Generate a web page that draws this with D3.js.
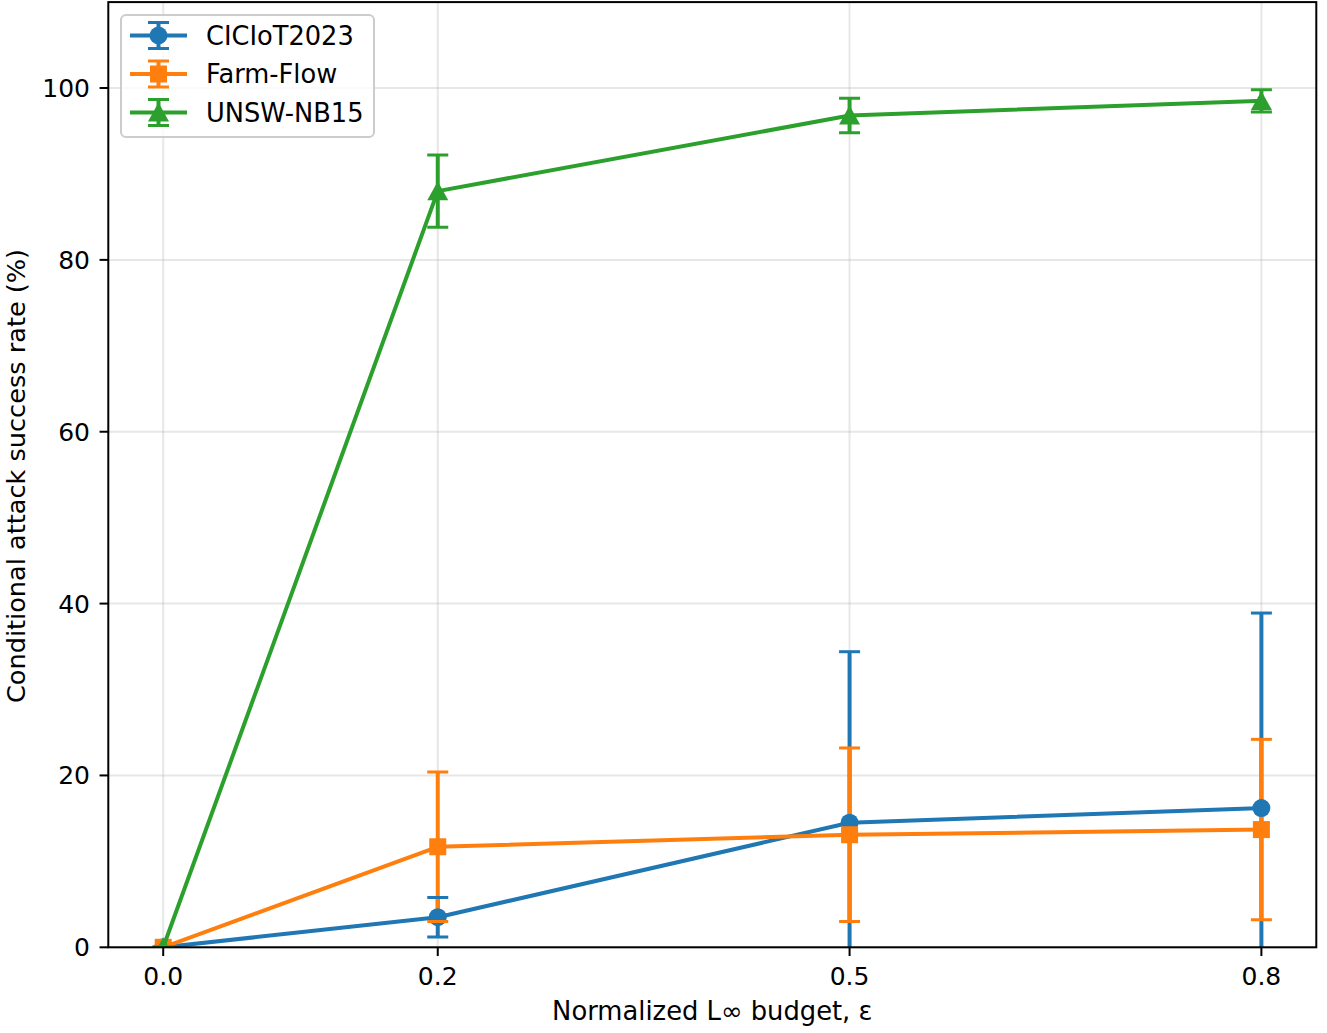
<!DOCTYPE html>
<html>
<head>
<meta charset="utf-8">
<script src="https://cdn.jsdelivr.net/npm/d3@7"></script>
<style>
  body { margin: 0; background: #fff; }
  svg { font-family: "DejaVu Sans", sans-serif; }
</style>
</head>
<body>
<svg id="chart" width="1327" height="1033"></svg>
<script>
// data
const budgets = [0.0, 0.2, 0.5, 0.8];
const xTickLabels = ["0.0", "0.2", "0.5", "0.8"];
const yTicks = [0, 20, 40, 60, 80, 100];
const seriesNames = ["CICIoT2023", "Farm-Flow", "UNSW-NB15"];
const ciciotMean = [0, 3.5, 14.5, 16.2];
const ciciotErr = [0, 2.3, 19.9, 22.7];
const farmMean = [0, 11.7, 13.1, 13.7];
const farmErr = [0, 8.7, 10.1, 10.5];
const unswMean = [0, 88.0, 96.8, 98.5];
const unswErr = [0, 4.2, 2.0, 1.3];

const colors = ["#1f77b4", "#ff7f0e", "#2ca02c"];
const shapes = ["circle", "square", "triangle"];

const series = [
  { name: seriesNames[0], mean: ciciotMean, err: ciciotErr },
  { name: seriesNames[1], mean: farmMean, err: farmErr },
  { name: seriesNames[2], mean: unswMean, err: unswErr }
].map((s, i) => ({ ...s, color: colors[i], shape: shapes[i],
  pts: budgets.map((b, j) => ({ x: b, y: s.mean[j], e: s.err[j] })) }));

const svg = d3.select("#chart");
const plotL = 108.3, plotR = 1316.3, plotT = 2.1, plotB = 947.3;
const lw = 4;

const x = d3.scaleLinear().domain([-0.04, 0.84]).range([plotL, plotR]);
const y = d3.scaleLinear().domain([0, 110]).range([plotB, plotT]);

svg.append("defs").append("clipPath").attr("id", "plotclip")
  .append("rect").attr("x", plotL).attr("y", plotT)
  .attr("width", plotR - plotL).attr("height", plotB - plotT);

// grid
const grid = svg.append("g").attr("stroke", "#b0b0b0").attr("stroke-opacity", 0.3).attr("stroke-width", 2);
grid.selectAll(".gx").data(budgets).enter().append("line")
  .attr("x1", d => x(d)).attr("x2", d => x(d)).attr("y1", plotT).attr("y2", plotB);
grid.selectAll(".gy").data(yTicks).enter().append("line")
  .attr("x1", plotL).attr("x2", plotR).attr("y1", d => y(d)).attr("y2", d => y(d));

const plot = svg.append("g").attr("clip-path", "url(#plotclip)");

let drawMarker = (g, shape, color, cx, cy) => {
  if (shape === "circle") {
    g.append("circle").attr("cx", cx).attr("cy", cy).attr("r", 9).attr("fill", color);
  } else if (shape === "square") {
    g.append("rect").attr("x", cx - 8.5).attr("y", cy - 8.5).attr("width", 17).attr("height", 17).attr("fill", color);
  } else {
    g.append("path").attr("d", `M${cx},${cy - 10}L${cx + 10.5},${cy + 9}L${cx - 10.5},${cy + 9}Z`).attr("fill", color);
  }
};

// error bars (below lines)
series.forEach(s => {
  plot.append("g").selectAll("line").data(s.pts).enter().append("line")
    .attr("x1", d => x(d.x)).attr("x2", d => x(d.x))
    .attr("y1", d => y(d.y - d.e)).attr("y2", d => y(d.y + d.e))
    .attr("stroke", s.color).attr("stroke-width", lw);
});

// lines + markers
const line = d3.line().x(d => x(d.x)).y(d => y(d.y));
series.forEach(s => {
  const g = plot.append("g");
  g.append("path").datum(s.pts).attr("d", line)
    .attr("fill", "none").attr("stroke", s.color).attr("stroke-width", lw)
    .attr("stroke-linejoin", "round").attr("stroke-linecap", "square");
  s.pts.forEach(d => drawMarker(g, s.shape, s.color, x(d.x), y(d.y)));
});

// caps (above everything)
series.forEach(s => {
  const g = plot.append("g").attr("stroke", s.color).attr("stroke-width", 3);
  s.pts.forEach(d => {
    [d.y - d.e, d.y + d.e].forEach(v => {
      g.append("line").attr("x1", x(d.x) - 10.5).attr("x2", x(d.x) + 10.5)
        .attr("y1", y(v)).attr("y2", y(v));
    });
  });
});

// axes frame
svg.append("rect").attr("x", plotL).attr("y", plotT).attr("width", plotR - plotL).attr("height", plotB - plotT)
  .attr("fill", "none").attr("stroke", "#000").attr("stroke-width", 2);

// x ticks
const xt = svg.append("g");
budgets.forEach((b, i) => {
  xt.append("line").attr("x1", x(b)).attr("x2", x(b)).attr("y1", plotB).attr("y2", plotB + 8.75)
    .attr("stroke", "#000").attr("stroke-width", 2);
  xt.append("text").attr("x", x(b)).attr("y", 985).attr("text-anchor", "middle")
    .attr("font-size", 25).attr("fill", "#000").text(xTickLabels[i]);
});

// y ticks
const yt = svg.append("g");
yTicks.forEach(v => {
  yt.append("line").attr("x1", plotL - 8.75).attr("x2", plotL).attr("y1", y(v)).attr("y2", y(v))
    .attr("stroke", "#000").attr("stroke-width", 2);
  yt.append("text").attr("x", 90).attr("y", y(v)).attr("dy", "0.36em").attr("text-anchor", "end")
    .attr("font-size", 25).attr("fill", "#000").text(v);
});

// axis labels
svg.append("text").attr("x", (plotL + plotR) / 2).attr("y", 1020).attr("text-anchor", "middle")
  .attr("font-size", 25.8).text("Normalized L\u221e budget, \u03b5");
svg.append("text").attr("transform", "translate(24.5,476) rotate(-90)").attr("text-anchor", "middle")
  .attr("font-size", 25.6).text("Conditional attack success rate (%)");

// legend
const legend = svg.append("g");
legend.append("rect").attr("x", 121).attr("y", 15).attr("width", 253).attr("height", 122)
  .attr("rx", 5).attr("fill", "#fff").attr("fill-opacity", 0.8)
  .attr("stroke", "#cccccc").attr("stroke-width", 2);
series.forEach((s, i) => {
  const cy = 35.5 + i * 38.5, cx = 158.5;
  const g = legend.append("g");
  g.append("line").attr("x1", cx).attr("x2", cx).attr("y1", cy - 13).attr("y2", cy + 13)
    .attr("stroke", s.color).attr("stroke-width", lw);
  g.append("line").attr("x1", 130).attr("x2", 187).attr("y1", cy).attr("y2", cy)
    .attr("stroke", s.color).attr("stroke-width", lw);
  drawMarker(g, s.shape, s.color, cx, cy);
  [cy - 13, cy + 13].forEach(v => g.append("line").attr("x1", cx - 10.5).attr("x2", cx + 10.5)
    .attr("y1", v).attr("y2", v).attr("stroke", s.color).attr("stroke-width", 3));
  g.append("text").attr("x", 206).attr("y", cy).attr("dy", "0.36em")
    .attr("font-size", 25.7).attr("fill", "#000").text(s.name);
});
</script>
</body>
</html>
